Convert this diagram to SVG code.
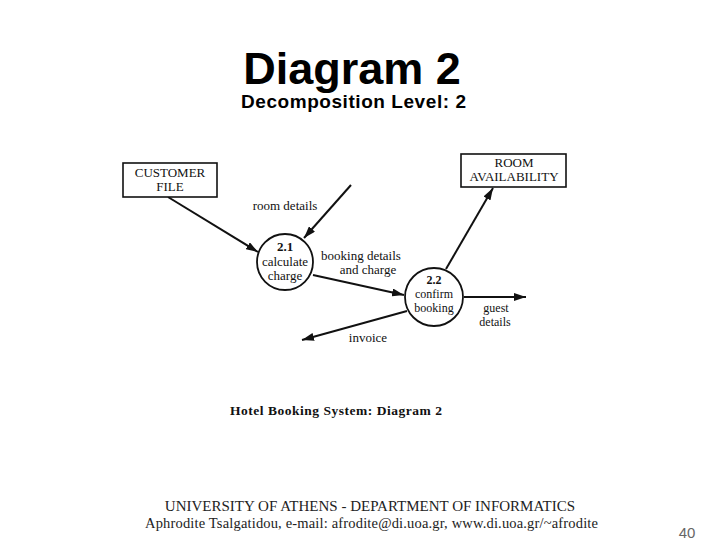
<svg xmlns="http://www.w3.org/2000/svg" width="720" height="540" viewBox="0 0 720 540">
<style>
.t{font-family:"Liberation Serif",serif;fill:#111;font-size:13px;text-anchor:middle}
.s{font-size:12px}
.b{font-weight:bold}
.box{fill:#fff;stroke:#111;stroke-width:1.6}
.proc{fill:#fff;stroke:#111;stroke-width:1.8}
.flow{stroke:#111;stroke-width:2;fill:none;marker-end:url(#ah)}
</style>
<defs>
<marker id="ah" viewBox="0 0 12 8" refX="12" refY="4" markerWidth="12" markerHeight="8" markerUnits="userSpaceOnUse" orient="auto">
<path d="M0,0 L12,4 L0,8 Z" fill="#111"/>
</marker>
</defs>
<rect width="720" height="540" fill="#fff"/>
<g id="title">
<text x="352" y="84" font-family="Liberation Sans,Arial,sans-serif" font-weight="bold" font-size="45" text-anchor="middle" fill="#000">Diagram 2</text>
<text x="241" y="108" font-family="Liberation Sans,Arial,sans-serif" font-weight="bold" font-size="19" textLength="225" fill="#000">Decomposition Level: 2</text>
</g>
<g id="connectors">
<line class="flow" x1="168" y1="197" x2="258" y2="252"/>
<line class="flow" x1="351" y1="185" x2="304" y2="238"/>
<line class="flow" x1="313" y1="275" x2="404" y2="295"/>
<line class="flow" x1="446" y1="269" x2="493" y2="188"/>
<line class="flow" x1="464" y1="297" x2="526" y2="297"/>
<line class="flow" x1="407" y1="311" x2="302" y2="340"/>
<text class="t" x="285" y="210">room details</text>
<text class="t" x="361" y="260">booking details</text>
<text class="t" x="368" y="274">and charge</text>
<text class="t s" x="496" y="312">guest</text>
<text class="t s" x="495" y="326">details</text>
<text class="t" x="368" y="342">invoice</text>
</g>
<g id="customer-file">
<rect class="box" x="123" y="163" width="94" height="34"/>
<text class="t" x="170" y="177">CUSTOMER</text>
<text class="t" x="170" y="191">FILE</text>
</g>
<g id="room-availability">
<rect class="box" x="461" y="154" width="105" height="33"/>
<text class="t" x="514" y="167">ROOM</text>
<text class="t" x="514" y="181">AVAILABILITY</text>
</g>
<g id="p21">
<circle class="proc" cx="285" cy="262" r="28"/>
<text class="t b" x="285" y="251">2.1</text>
<text class="t" x="285" y="266">calculate</text>
<text class="t" x="285" y="280">charge</text>
</g>
<g id="p22">
<circle class="proc" cx="434" cy="297" r="29"/>
<text class="t b s" x="434" y="284">2.2</text>
<text class="t s" x="434" y="298">confirm</text>
<text class="t s" x="434" y="312">booking</text>
</g>
<g id="caption">
<text x="230" y="415" font-family="Liberation Serif,serif" font-weight="bold" font-size="13.5" textLength="212" fill="#111">Hotel Booking System: Diagram 2</text>
</g>
<g id="footer">
<text x="370" y="511" font-family="Liberation Serif,serif" font-size="15" text-anchor="middle" fill="#222">UNIVERSITY OF ATHENS - DEPARTMENT OF INFORMATICS</text>
<text x="145" y="528" font-family="Liberation Serif,serif" font-size="14.5" textLength="453" fill="#222">Aphrodite Tsalgatidou, e-mail: afrodite@di.uoa.gr, www.di.uoa.gr/~afrodite</text>
<text x="687" y="538" font-family="Liberation Sans,Arial,sans-serif" font-size="15" text-anchor="middle" fill="#666">40</text>
</g>
</svg>
